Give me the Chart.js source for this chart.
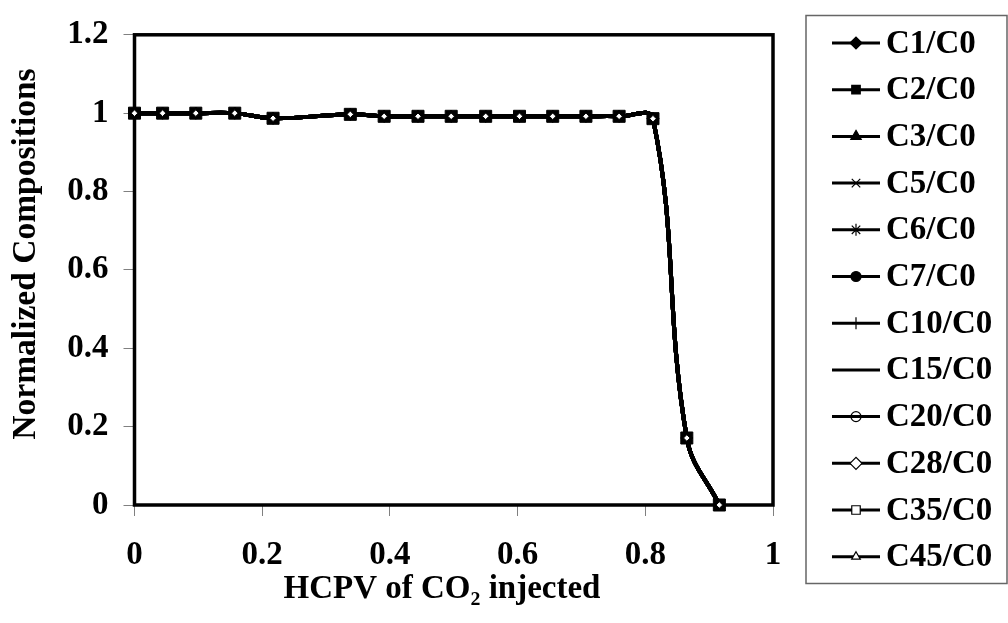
<!DOCTYPE html>
<html>
<head>
<meta charset="utf-8">
<script src="https://cdn.jsdelivr.net/npm/chart.js@4.4.0/dist/chart.umd.min.js"></script>
<style>
  html, body { margin: 0; padding: 0; background: #fff; }
  #wrap { width: 1008px; height: 623px; }
</style>
</head>
<body>
<div id="wrap"><canvas id="chart" width="1008" height="623"></canvas></div>
<script>
// data (all components overlap on the same curve)
const hcpv = [0, 0.044, 0.096, 0.157, 0.217, 0.338, 0.391, 0.444, 0.496, 0.55, 0.603, 0.655, 0.707, 0.759, 0.812, 0.865, 0.916];
const normComp = [1.0, 1.0, 1.0, 1.0, 0.987, 0.997, 0.992, 0.992, 0.992, 0.992, 0.992, 0.992, 0.992, 0.992, 0.986, 0.171, 0];
const seriesNames = ["C1/C0", "C2/C0", "C3/C0", "C5/C0", "C6/C0", "C7/C0", "C10/C0", "C15/C0", "C20/C0", "C28/C0", "C35/C0", "C45/C0"];
const xTicks = [0, 0.2, 0.4, 0.6, 0.8, 1];
const yTicks = [0, 0.2, 0.4, 0.6, 0.8, 1, 1.2];
const xTitle = "HCPV of CO\u2082 injected";
const yTitle = "Normalized Compositions";

// marker look per series (Excel style)
const markers = [
  { style: "rectRot", fill: "#000", r: 6, order: 2 },
  { style: "rect", fill: "#000", r: 8.5, order: 1 },
  { style: "triangle", fill: "#000", r: 6, order: 2 },
  { style: "crossRot", fill: "#000", r: 6, order: 2 },
  { style: "star", fill: "#000", r: 6, order: 2 },
  { style: "circle", fill: "#000", r: 5, order: 2 },
  { style: "cross", fill: "#000", r: 6, order: 2 },
  { style: "line", fill: "#000", r: 0, order: 2 },
  { style: "circle", fill: "rgba(0,0,0,0)", r: 5, order: 3 },
  { style: "rectRot", fill: "#fff", r: 3.3, order: 0 },
  { style: "rect", fill: "#fff", r: 6, order: 3 },
  { style: "triangle", fill: "#fff", r: 5, order: 3 }
];

const FONT = "'Liberation Serif', 'Times New Roman', serif";
const fmt = v => String(Math.round(v * 10) / 10);

const datasets = seriesNames.map((name, i) => ({
  label: name,
  data: hcpv.map((x, j) => ({ x: x, y: normComp[j] })),
  borderColor: "#000",
  borderWidth: 4,
  tension: 0.4,
  pointStyle: markers[i].style,
  pointRadius: markers[i].r,
  pointBackgroundColor: markers[i].fill,
  pointBorderColor: "#000",
  pointBorderWidth: 1,
  order: markers[i].order,
  clip: false
}));

// thick frame round the plot area
const frame = {
  id: "frame",
  beforeDatasetsDraw(chart) {
    const { ctx, chartArea: a } = chart;
    ctx.save();
    ctx.strokeStyle = "#000";
    ctx.lineWidth = 3.5;
    ctx.strokeRect(a.left, a.top, a.right - a.left, a.bottom - a.top);
    ctx.restore();
  }
};

// axis titles (Excel centres them a bit off the plot area)
const axisTitles = {
  id: "axisTitles",
  afterDraw(chart) {
    const ctx = chart.ctx;
    ctx.save();
    ctx.fillStyle = "#000";
    ctx.textAlign = "center";
    ctx.textBaseline = "alphabetic";
    ctx.font = "bold 33px " + FONT;
    ctx.fillText(xTitle, 442, 598);
    ctx.translate(35, 254);
    ctx.rotate(-Math.PI / 2);
    ctx.font = "bold 33.5px " + FONT;
    ctx.fillText(yTitle, 0, 0);
    ctx.restore();
  }
};

// Excel-like legend box with line + marker samples
const legendBox = {
  id: "legendBox",
  afterDraw(chart) {
    const ctx = chart.ctx;
    ctx.save();
    ctx.strokeStyle = "#666";
    ctx.lineWidth = 1.5;
    ctx.strokeRect(806, 15.5, 201, 568);
    ctx.font = "bold 33px " + FONT;
    ctx.textBaseline = "middle";
    ctx.textAlign = "left";
    seriesNames.forEach((name, i) => {
      const y = 43 + i * 46.7;
      ctx.strokeStyle = "#000";
      ctx.lineWidth = 3;
      ctx.beginPath();
      ctx.moveTo(832, y);
      ctx.lineTo(880, y);
      ctx.stroke();
      const m = markers[i];
      if (m.r > 0) {
        ctx.fillStyle = m.fill;
        ctx.lineWidth = 1.2;
        Chart.helpers.drawPoint(ctx, { pointStyle: m.style, radius: i === 9 ? 6 : Math.min(m.r, 6), rotation: 0, borderWidth: 1.2 }, 856, y);
      }
      ctx.fillStyle = "#000";
      ctx.fillText(name, 886, y + 1);
    });
    ctx.restore();
  }
};

new Chart(document.getElementById("chart"), {
  type: "line",
  data: { datasets: datasets },
  options: {
    responsive: false,
    animation: false,
    events: [],
    layout: { padding: { left: 0, top: 27, right: 235, bottom: 0 } },
    plugins: { legend: { display: false }, tooltip: { enabled: false } },
    scales: {
      x: {
        type: "linear",
        min: 0, max: 1,
        afterBuildTicks: s => { s.ticks = xTicks.map(v => ({ value: v })); },
        afterFit: s => { s.height = 118; },
        border: { display: false },
        grid: { drawOnChartArea: false, drawTicks: true, tickLength: 11, color: "#808080" },
        ticks: { color: "#000", padding: 20, callback: fmt, font: { family: FONT, size: 33, weight: "bold" } },
        title: { display: false }
      },
      y: {
        type: "linear",
        min: 0, max: 1.2,
        afterBuildTicks: s => { s.ticks = yTicks.map(v => ({ value: v })); },
        afterFit: s => { s.width = 134.5; },
        border: { display: false },
        grid: { drawOnChartArea: false, drawTicks: true, tickLength: 11, color: "#808080" },
        ticks: { color: "#000", padding: 15, callback: fmt, font: { family: FONT, size: 33, weight: "bold" } },
        title: { display: false }
      }
    }
  },
  plugins: [frame, axisTitles, legendBox]
});
</script>
</body>
</html>
